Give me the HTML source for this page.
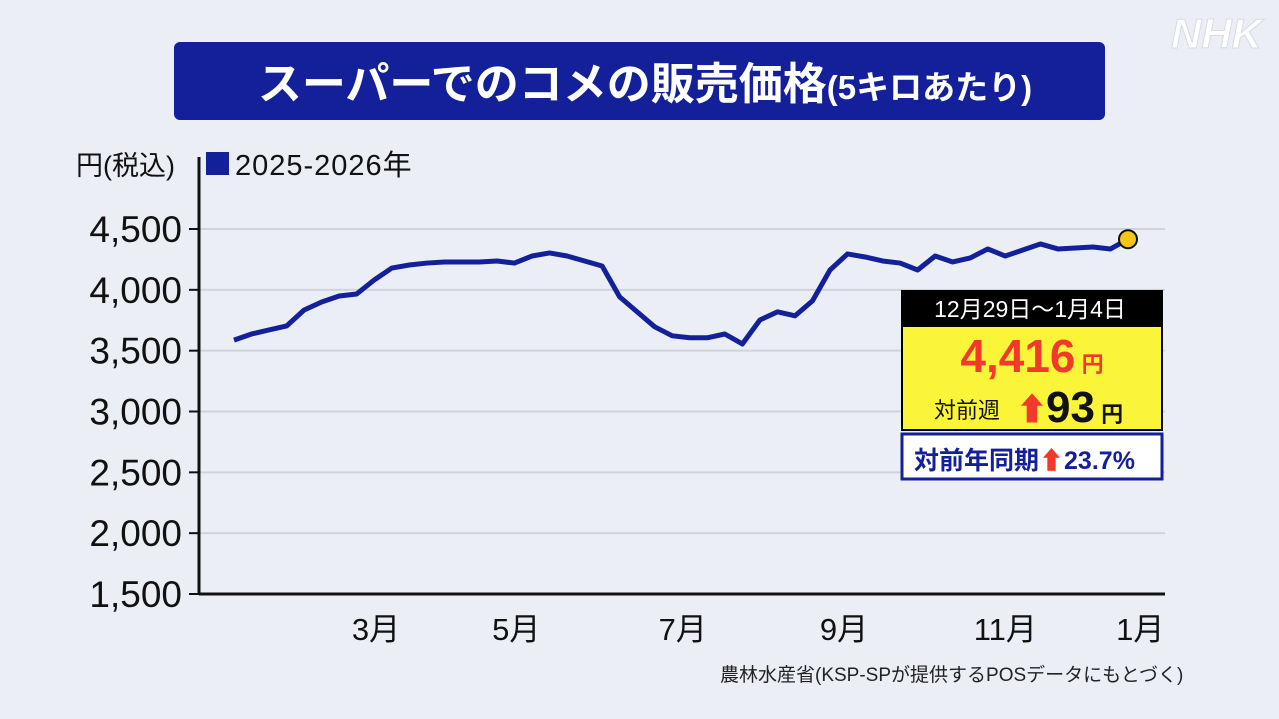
<!DOCTYPE html>
<html><head><meta charset="utf-8"><style>
body{margin:0;width:1279px;height:719px;background:#eceef6;overflow:hidden;font-family:"Liberation Sans","Noto Sans CJK JP",sans-serif;}
</style></head><body>
<svg width="1279" height="719" xmlns="http://www.w3.org/2000/svg" style="position:absolute;left:0;top:0;font-family:'Liberation Sans','Noto Sans CJK JP',sans-serif">
<rect x="0" y="0" width="1279" height="719" fill="#eceef6"/>
<text x="1262" y="48" text-anchor="end" font-size="42" font-weight="bold" font-style="italic" fill="#ffffff" stroke="#d8dae4" stroke-width="1">NHK</text>
<rect x="174" y="42" width="931" height="78" rx="6" fill="#14209a"/>
<text x="645" y="99" text-anchor="middle" fill="#fff" font-weight="bold"><tspan font-size="44">スーパーでのコメの販売価格</tspan><tspan font-size="33">(5キロあたり)</tspan></text>
<text x="76" y="175" font-size="27" fill="#111">円(税込)</text>
<rect x="206" y="152" width="23" height="23" fill="#14209a"/>
<text x="235" y="175" font-size="29" fill="#111" letter-spacing="1">2025-2026年</text>
<g id="grid"></g>
<line x1="199" y1="157" x2="199" y2="595" stroke="#111" stroke-width="3"/>
<line x1="199" y1="594" x2="1165" y2="594" stroke="#111" stroke-width="3"/>
<g id="xlabels"></g>
<polyline id="line" fill="none" stroke="#14209a" stroke-width="5" stroke-linejoin="round"/>
<circle id="dot" r="9" fill="#f5c518" stroke="#111" stroke-width="2"/>
<text x="720" y="681" font-size="19" fill="#222">農林水産省(KSP-SPが提供するPOSデータにもとづく)</text>
<g>
<rect x="901" y="290" width="262" height="36" fill="#000"/>
<text x="1030" y="317" text-anchor="middle" font-size="23" fill="#fff">12月29日～1月4日</text>
<rect x="902" y="326" width="260" height="104" fill="#fbf53a" stroke="#000" stroke-width="2"/>
<text x="1032" y="372" text-anchor="middle" fill="#f23a2c" font-weight="bold"><tspan font-size="46">4,416</tspan><tspan font-size="22"> 円</tspan></text>
<text x="934" y="418" font-size="22" fill="#111">対前週</text>
<text x="1016" y="420" font-size="32" fill="#f23a2c" font-weight="bold">⬆</text>
<text x="1046" y="422" fill="#111" font-weight="bold"><tspan font-size="44">93</tspan><tspan font-size="22"> 円</tspan></text>
<rect x="902" y="434" width="260" height="45" fill="#fff" stroke="#14209a" stroke-width="3"/>
<text x="914" y="469" font-size="25" fill="#14209a" font-weight="bold">対前年同期<tspan fill="#f23a2c">⬆</tspan>23.7%</text>
</g>
</svg>
<script>
const values=[3587,3637,3670,3703,3834,3900,3949,3966,4081,4179,4204,4220,4229,4229,4229,4237,4220,4278,4303,4278,4237,4196,3942,3819,3696,3622,3606,3606,3637,3555,3752,3819,3786,3909,4163,4295,4270,4237,4220,4163,4278,4229,4262,4336,4278,4327,4377,4336,4344,4352,4336,4416];
const yTicks=[1500,2000,2500,3000,3500,4000,4500];
const yTickLabels=["1,500","2,000","2,500","3,000","3,500","4,000","4,500"];
const monthLabels=["3月","5月","7月","9月","11月","1月"];
const monthIndex=[9.1,17.1,26.6,35.8,45.0,52.7];
const NS="http://www.w3.org/2000/svg";
function y(v){return 594-(v-1500)*(365/3000);}
function x(i){return 234+i*(894/51);}
const grid=document.getElementById('grid');
yTicks.forEach((t,k)=>{
 if(t>1500){const l=document.createElementNS(NS,'line');
 l.setAttribute('x1',199);l.setAttribute('x2',1165);l.setAttribute('y1',y(t));l.setAttribute('y2',y(t));
 l.setAttribute('stroke','#d0d2dc');l.setAttribute('stroke-width',2);
 
 
 grid.appendChild(l);}
 const tk=document.createElementNS(NS,'line');
 tk.setAttribute('x1',189);tk.setAttribute('x2',199);tk.setAttribute('y1',y(t));tk.setAttribute('y2',y(t));
 tk.setAttribute('stroke','#111');tk.setAttribute('stroke-width',2);
 
 
 grid.appendChild(tk);
 const tx=document.createElementNS(NS,'text');
 tx.setAttribute('x',182);tx.setAttribute('y',y(t)+13);tx.setAttribute('text-anchor','end');
 tx.setAttribute('font-size','37');tx.setAttribute('fill','#111');
 
 
 tx.textContent=yTickLabels[k];grid.appendChild(tx);
});
const xl=document.getElementById('xlabels');
monthLabels.forEach((m,k)=>{
 const tx=document.createElementNS(NS,'text');
 tx.setAttribute('x',x(monthIndex[k]-1));tx.setAttribute('y',640);tx.setAttribute('text-anchor','middle');
 tx.setAttribute('font-size','31');tx.setAttribute('fill','#111');
 
 
 tx.textContent=m;xl.appendChild(tx);
});
document.getElementById('line').setAttribute('points',values.map((v,i)=>x(i)+','+y(v)).join(' '));
const d=document.getElementById('dot');const li=values.length-1;
d.setAttribute('cx',x(li));d.setAttribute('cy',y(values[li]));
</script>
</body></html>
